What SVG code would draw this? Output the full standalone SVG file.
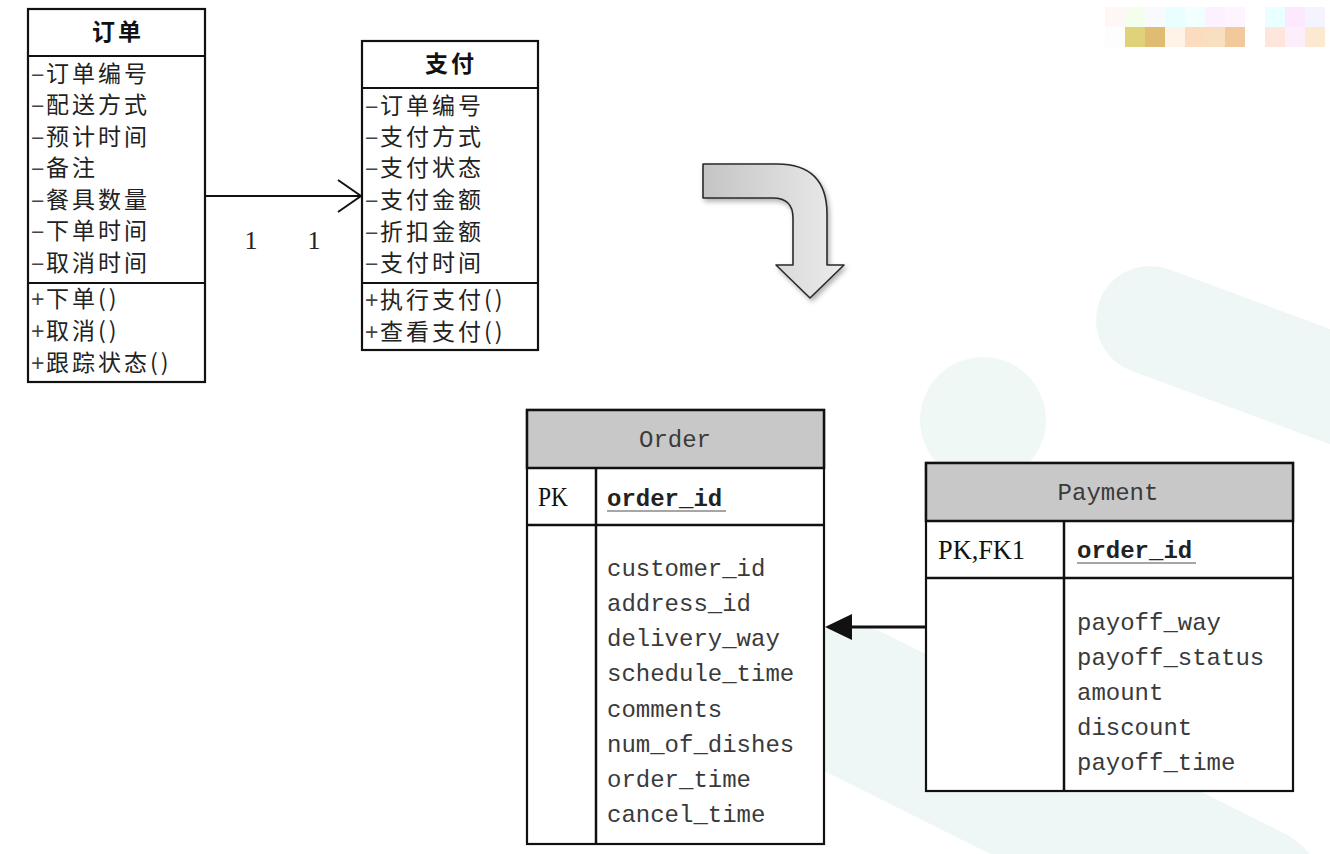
<svg xmlns="http://www.w3.org/2000/svg" width="1330" height="854" viewBox="0 0 1330 854">
<defs>
<style>
.box{fill:#fff;stroke:#111;stroke-width:2.2}
.hdr{fill:#c8c8c8;stroke:#111;stroke-width:2.5}
.ln{stroke:#111;stroke-width:2.2;fill:none}
.ln2{stroke:#111;stroke-width:2.5;fill:none}
.cjk{font-family:"Noto Sans CJK SC","Noto Sans",sans-serif;font-size:23px;fill:#222;letter-spacing:3px}
.cjkb{font-family:"Noto Sans CJK SC","Noto Sans",sans-serif;font-size:23px;font-weight:700;fill:#111;letter-spacing:3px}
.dash{font-family:"Liberation Sans",sans-serif;font-size:23px;fill:#444}
.mono{font-family:"Liberation Mono",monospace;font-size:24px;fill:#3a3a3a}
.monob{font-family:"Liberation Mono",monospace;font-size:24px;font-weight:700;fill:#222}
.ser{font-family:"Liberation Serif",serif;font-size:27px;fill:#111}
.num{font-family:"Liberation Serif",serif;font-size:26px;fill:#222}
.wm{fill:none;stroke:#eef7f5;stroke-linecap:round}
</style>
<linearGradient id="g" x1="0" y1="0" x2="1" y2="0">
<stop offset="0" stop-color="#c4c4c4"/>
<stop offset="1" stop-color="#ececec"/>
</linearGradient>
<filter id="sh" x="-20%" y="-20%" width="150%" height="150%">
<feDropShadow dx="2" dy="3" stdDeviation="2.5" flood-color="#000" flood-opacity="0.3"/>
</filter>
</defs>
<rect width="1330" height="854" fill="#fff"/>
<g id="background">
<circle cx="983" cy="420" r="63" fill="#f0f8f6"/>
<line class="wm" x1="1150" y1="320" x2="1420" y2="420" stroke-width="108" stroke="#f0f8f6"/>
<line class="wm" x1="850" y1="700" x2="1250" y2="900" stroke-width="150" stroke="#f3f9f8"/>
</g>
<g id="mosaic">
<rect x="1105" y="7" width="20" height="20" fill="#fff6f6"/>
<rect x="1125" y="7" width="20" height="20" fill="#f3ffec"/>
<rect x="1145" y="7" width="20" height="20" fill="#f9fafe"/>
<rect x="1165" y="7" width="20" height="20" fill="#e9ffff"/>
<rect x="1185" y="7" width="20" height="20" fill="#f2ffff"/>
<rect x="1205" y="7" width="20" height="20" fill="#fcf2ff"/>
<rect x="1225" y="7" width="20" height="20" fill="#fdf4ff"/>
<rect x="1265" y="7" width="20" height="20" fill="#eaffff"/>
<rect x="1285" y="7" width="20" height="20" fill="#fde9fe"/>
<rect x="1305" y="7" width="20" height="20" fill="#f3f4ff"/>
<rect x="1105" y="27" width="20" height="20" fill="#fdfdfd"/>
<rect x="1125" y="27" width="20" height="20" fill="#e0d27a"/>
<rect x="1145" y="27" width="20" height="20" fill="#e0bb72"/>
<rect x="1165" y="27" width="20" height="20" fill="#fef3e6"/>
<rect x="1185" y="27" width="20" height="20" fill="#fbdcbe"/>
<rect x="1205" y="27" width="20" height="20" fill="#f7dfbf"/>
<rect x="1225" y="27" width="20" height="20" fill="#f1c99b"/>
<rect x="1265" y="27" width="20" height="20" fill="#fee6dc"/>
<rect x="1285" y="27" width="20" height="20" fill="#fdeefc"/>
<rect x="1305" y="27" width="20" height="20" fill="#fde9cf"/>
</g>
<g id="class-order">
<rect class="box" x="28" y="9" width="177" height="373"/>
<line class="ln" x1="28" y1="56" x2="205" y2="56"/>
<line class="ln" x1="28" y1="283" x2="205" y2="283"/>
<text class="cjkb" x="118" y="40" text-anchor="middle">订单</text>
<text class="dash" x="31" y="83">−</text><text class="cjk" x="46" y="82">订单编号</text>
<text class="dash" x="31" y="114">−</text><text class="cjk" x="46" y="113">配送方式</text>
<text class="dash" x="31" y="146">−</text><text class="cjk" x="46" y="145">预计时间</text>
<text class="dash" x="31" y="177">−</text><text class="cjk" x="46" y="176">备注</text>
<text class="dash" x="31" y="209">−</text><text class="cjk" x="46" y="208">餐具数量</text>
<text class="dash" x="31" y="240">−</text><text class="cjk" x="46" y="239">下单时间</text>
<text class="dash" x="31" y="272">−</text><text class="cjk" x="46" y="271">取消时间</text>
<text class="dash" x="31" y="307">+</text><text class="cjk" x="46" y="307">下单()</text>
<text class="dash" x="31" y="339">+</text><text class="cjk" x="46" y="339">取消()</text>
<text class="dash" x="31" y="371">+</text><text class="cjk" x="46" y="371">跟踪状态()</text>
</g>
<g id="class-payment">
<rect class="box" x="362" y="41" width="176" height="309"/>
<line class="ln" x1="362" y1="88" x2="538" y2="88"/>
<line class="ln" x1="362" y1="283" x2="538" y2="283"/>
<text class="cjkb" x="451" y="72" text-anchor="middle">支付</text>
<text class="dash" x="365" y="115">−</text><text class="cjk" x="380" y="114">订单编号</text>
<text class="dash" x="365" y="146">−</text><text class="cjk" x="380" y="145">支付方式</text>
<text class="dash" x="365" y="177">−</text><text class="cjk" x="380" y="176">支付状态</text>
<text class="dash" x="365" y="209">−</text><text class="cjk" x="380" y="208">支付金额</text>
<text class="dash" x="365" y="241">−</text><text class="cjk" x="380" y="240">折扣金额</text>
<text class="dash" x="365" y="272">−</text><text class="cjk" x="380" y="271">支付时间</text>
<text class="dash" x="365" y="308">+</text><text class="cjk" x="380" y="308">执行支付()</text>
<text class="dash" x="365" y="340">+</text><text class="cjk" x="380" y="340">查看支付()</text>
</g>
<g id="transform-arrow">
<path d="M703,164 L777,164 Q827,164 827,214 L827,265 L844,265 L810,298 L776,265 L793,265 L793,218 Q793,198 773,198 L703,198 Z" fill="url(#g)" stroke="#2a2a2a" stroke-width="1.6" stroke-linejoin="round" filter="url(#sh)"/>
</g>
<g id="table-order">
<rect class="box" x="527" y="410" width="297" height="434" stroke-width="2.5"/>
<rect class="hdr" x="527" y="410" width="297" height="58"/>
<line class="ln2" x1="527" y1="525" x2="824" y2="525"/>
<line class="ln2" x1="596" y1="468" x2="596" y2="844"/>
<text class="mono" x="675" y="447" text-anchor="middle">Order</text>
<text class="ser" x="538" y="506" textLength="30" lengthAdjust="spacingAndGlyphs">PK</text>
<text class="monob" x="607" y="506">order_id</text>
<line x1="607" y1="511" x2="726" y2="511" stroke="#888" stroke-width="1.5"/>
<text class="mono" x="607" y="576">customer_id</text>
<text class="mono" x="607" y="611">address_id</text>
<text class="mono" x="607" y="646">delivery_way</text>
<text class="mono" x="607" y="681">schedule_time</text>
<text class="mono" x="607" y="717">comments</text>
<text class="mono" x="607" y="752">num_of_dishes</text>
<text class="mono" x="607" y="787">order_time</text>
<text class="mono" x="607" y="822">cancel_time</text>
</g>
<g id="table-payment">
<rect class="box" x="926" y="463" width="367" height="328" stroke-width="2.5"/>
<rect class="hdr" x="926" y="463" width="367" height="58"/>
<line class="ln2" x1="926" y1="578" x2="1293" y2="578"/>
<line class="ln2" x1="1064" y1="521" x2="1064" y2="791"/>
<text class="mono" x="1108" y="500" text-anchor="middle">Payment</text>
<text class="ser" x="938" y="559" textLength="87" lengthAdjust="spacingAndGlyphs">PK,FK1</text>
<text class="monob" x="1077" y="558">order_id</text>
<line x1="1077" y1="563" x2="1196" y2="563" stroke="#888" stroke-width="1.5"/>
<text class="mono" x="1077" y="630">payoff_way</text>
<text class="mono" x="1077" y="665">payoff_status</text>
<text class="mono" x="1077" y="700">amount</text>
<text class="mono" x="1077" y="735">discount</text>
<text class="mono" x="1077" y="770">payoff_time</text>
</g>
<g id="connectors">
<line x1="205" y1="196" x2="361" y2="196" stroke="#111" stroke-width="2"/>
<polyline points="338,180 361,196 338,212" fill="none" stroke="#111" stroke-width="2"/>
<text class="num" x="251" y="249" text-anchor="middle">1</text>
<text class="num" x="314" y="249" text-anchor="middle">1</text>
<line x1="926" y1="627" x2="848" y2="627" stroke="#111" stroke-width="3"/>
<polygon points="825,627 852,614 852,640" fill="#111"/>
</g>
</svg>
